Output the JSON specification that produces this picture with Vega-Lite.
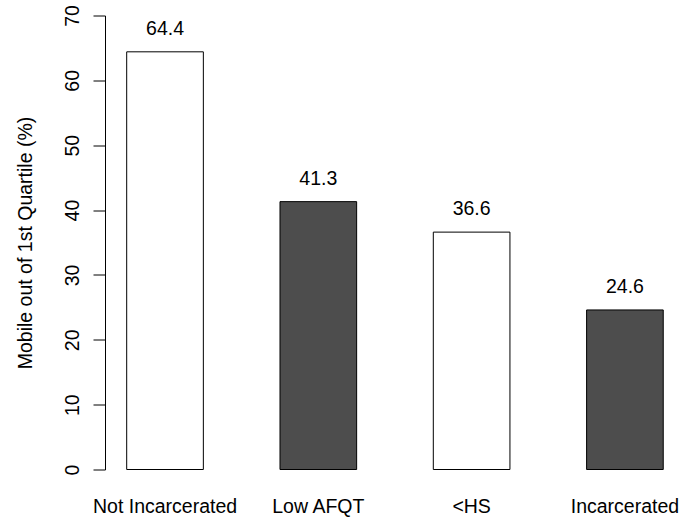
{
  "$schema": "https://vega.github.io/schema/vega-lite/v6.json",
  "width": 576,
  "height": 454,
  "autosize": "none",
  "padding": {"left": 105, "top": 15.5, "right": 0, "bottom": 49.5},
  "background": "white",
  "config": {
    "view": {"stroke": null},
    "font": "Liberation Sans",
    "axis": {"grid": false, "labelColor": "black", "titleColor": "black", "labelFont": "Liberation Sans", "titleFont": "Liberation Sans"}
  },
  "data": {
    "values": [
      {"group": "Not Incarcerated", "value": 64.4},
      {"group": "Low AFQT", "value": 41.3},
      {"group": "<HS", "value": 36.6},
      {"group": "Incarcerated", "value": 24.6}
    ]
  },
  "encoding": {
    "x": {
      "field": "group",
      "type": "nominal",
      "sort": null,
      "scale": {"paddingInner": 0.5, "paddingOuter": 0.1287, "align": 0.55},
      "axis": {
        "title": null,
        "domain": false,
        "ticks": false,
        "tickSize": 0,
        "labelAngle": 0,
        "labelFontSize": 19.5,
        "labelBaseline": "alphabetic",
        "labelPadding": 42.5,
        "labelOverlap": false
      }
    },
    "y": {
      "field": "value",
      "type": "quantitative",
      "scale": {"domain": [0, 70], "nice": false, "zero": true},
      "axis": {
        "title": "Mobile out of 1st Quartile (%)",
        "values": [0, 10, 20, 30, 40, 50, 60, 70],
        "tickSize": 12,
        "tickColor": "black",
        "domainColor": "black",
        "tickWidth": 1,
        "domainWidth": 1,
        "labelAngle": -90,
        "labelAlign": "center",
        "labelBaseline": "alphabetic",
        "labelPadding": 15,
        "labelFontSize": 19.5,
        "labelOverlap": false,
        "titleFontSize": 19.5,
        "titleFontWeight": "normal",
        "titleAngle": -90,
        "titleAlign": "center",
        "titleBaseline": "middle",
        "titleX": -80,
        "titleY": 227
      }
    }
  },
  "layer": [
    {
      "mark": {"type": "bar", "stroke": "black", "strokeWidth": 1},
      "encoding": {
        "fill": {
          "field": "group",
          "type": "nominal",
          "scale": {"domain": ["Not Incarcerated", "Low AFQT", "<HS", "Incarcerated"], "range": ["#ffffff", "#4d4d4d", "#ffffff", "#4d4d4d"]},
          "legend": null
        }
      }
    },
    {
      "mark": {"type": "text", "dy": -17, "baseline": "alphabetic", "fontSize": 19.5, "color": "black"},
      "encoding": {
        "text": {"field": "value", "type": "quantitative", "format": ".1f"}
      }
    }
  ]
}
